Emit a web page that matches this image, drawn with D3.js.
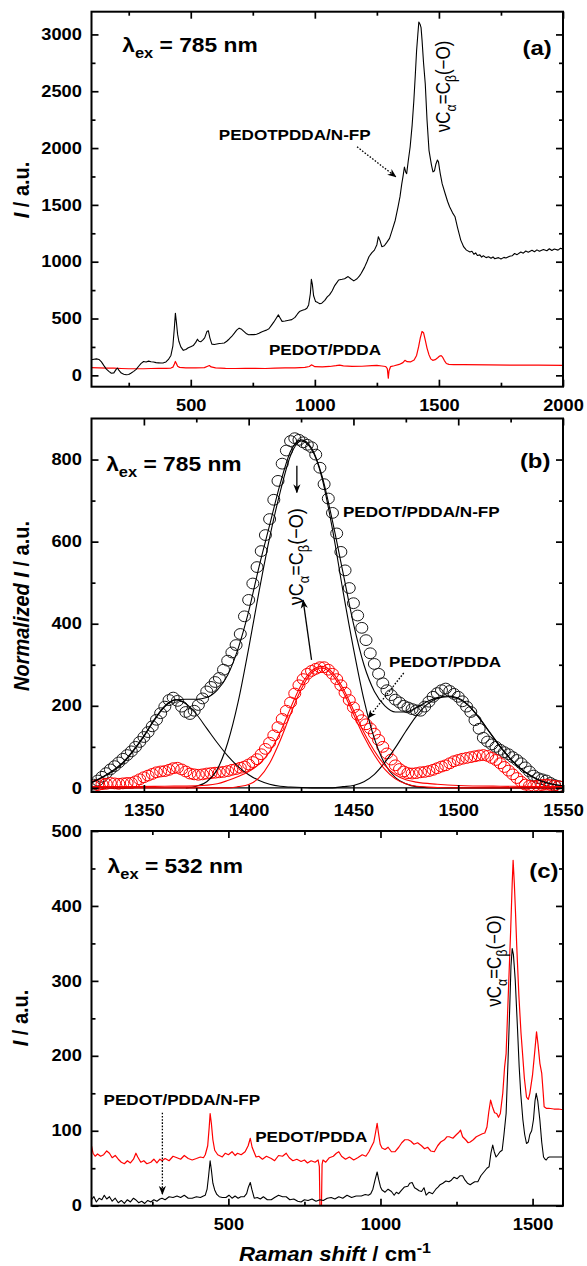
<!DOCTYPE html>
<html>
<head>
<meta charset="utf-8">
<script src="https://cdn.jsdelivr.net/npm/d3@7"></script>
<style>
  body { margin: 0; background: #fff; }
  text { font-family: "Liberation Sans", Arial, sans-serif; }
</style>
</head>
<body>
<div id="chart"></div>
<script>
// ---- (a) 785 nm, full range: [Raman shift, I] ----
const a785Nfp = [[100,137],[110,142],[120,145],[130,140],[140,118],[150,85],[160,55],[170,35],[180,18],[190,22],[200,55],[205,64],[210,45],[220,20],[230,10],[240,5],[250,8],[260,20],[270,35],[280,52],[290,80],[300,105],[310,122],[320,118],[330,125],[340,120],[350,118],[360,112],[370,110],[380,108],[390,110],[400,118],[410,140],[420,175],[428,260],[434,420],[438,547],[442,470],[447,360],[452,300],[460,250],[470,220],[480,228],[490,242],[500,252],[510,262],[520,290],[527,318],[533,300],[540,295],[548,310],[556,330],[565,385],[571,392],[577,330],[585,275],[595,272],[605,276],[615,280],[625,282],[635,285],[645,300],[655,320],[665,342],[675,370],[685,398],[695,415],[705,405],[715,385],[725,365],[733,357],[745,360],[755,358],[765,362],[775,370],[785,382],[795,390],[805,398],[815,410],[825,440],[835,470],[845,505],[853,532],[860,505],[868,475],[880,478],[895,485],[907,490],[920,510],[930,540],[938,561],[950,572],[960,580],[968,591],[975,620],[982,720],[986,845],[990,800],[995,700],[1003,649],[1012,640],[1020,630],[1028,635],[1040,660],[1050,690],[1059,708],[1070,745],[1080,790],[1090,820],[1096,839],[1110,845],[1120,850],[1134,869],[1145,850],[1157,831],[1170,850],[1180,875],[1187,898],[1200,950],[1210,1000],[1218,1044],[1230,1080],[1240,1102],[1250,1150],[1256,1220],[1262,1190],[1270,1132],[1280,1140],[1290,1170],[1301,1205],[1312,1280],[1324,1365],[1335,1480],[1343,1570],[1350,1680],[1356,1760],[1361,1833],[1366,1790],[1370,1775],[1376,1880],[1384,2009],[1392,2200],[1399,2418],[1405,2650],[1410,2857],[1415,3000],[1419,3108],[1424,3090],[1428,3060],[1432,2950],[1438,2750],[1445,2564],[1452,2250],[1460,1980],[1470,1850],[1476,1790],[1482,1800],[1488,1860],[1494,1895],[1498,1880],[1505,1780],[1513,1687],[1525,1600],[1535,1530],[1543,1483],[1555,1430],[1565,1395],[1575,1300],[1588,1190],[1600,1130],[1611,1102],[1625,1085],[1633,1092],[1641,1065],[1648,1078],[1655,1055],[1665,1060],[1672,1040],[1679,1052],[1690,1036],[1700,1044],[1710,1030],[1718,1042],[1725,1026],[1740,1036],[1750,1024],[1762,1038],[1770,1032],[1785,1048],[1795,1052],[1805,1072],[1815,1062],[1830,1085],[1840,1075],[1850,1094],[1860,1084],[1875,1100],[1885,1088],[1895,1104],[1905,1092],[1921,1108],[1935,1096],[1945,1114],[1955,1098],[1965,1112],[1980,1102],[1990,1118],[2000,1110]];
const a785Ref = [[100,67],[130,66],[160,64],[190,63],[220,60],[250,58],[280,58],[310,58],[340,60],[370,61],[400,62],[420,64],[428,72],[434,100],[438,122],[442,105],[447,80],[455,70],[480,65],[520,66],[555,68],[568,80],[575,86],[582,74],[600,66],[640,62],[680,60],[720,61],[760,62],[800,60],[840,63],[880,65],[920,66],[960,70],[978,78],[986,92],[992,86],[1000,76],[1030,74],[1060,78],[1085,85],[1100,90],[1115,84],[1150,78],[1190,80],[1230,86],[1250,88],[1270,82],[1285,78],[1292,60],[1296,-25],[1299,40],[1305,76],[1320,84],[1340,96],[1355,112],[1363,132],[1372,120],[1385,118],[1400,135],[1410,175],[1418,250],[1425,330],[1432,386],[1438,375],[1445,310],[1452,240],[1460,180],[1467,145],[1475,132],[1485,138],[1495,155],[1503,170],[1509,173],[1515,160],[1522,130],[1530,104],[1540,96],[1560,95],[1600,94],[1700,92],[1800,90],[1900,89],[2000,88]];
const aXMajor = [500, 1000, 1500, 2000];
const aXMinor = [250, 750, 1250, 1750];
const aYMajor = [0, 500, 1000, 1500, 2000, 2500, 3000];
const aYMinor = [250, 750, 1250, 1750, 2250, 2750];

// ---- (b) 785 nm, normalized, 1325-1550 ----
const bNfpPts = [[1326,8],[1328,18],[1330,27],[1332,36],[1334,45],[1336,53],[1338,62],[1340,71],[1342,80],[1344,89],[1346,100],[1348,112],[1350,124],[1352,136],[1354,150],[1356,166],[1358,182],[1360,198],[1362,214],[1364,220],[1366,212],[1368,198],[1370,185],[1372,180],[1374,188],[1376,202],[1378,218],[1380,235],[1382,246],[1384,258],[1386,268],[1388,288],[1390,310],[1392,330],[1394,348],[1396,375],[1398,418],[1400,458],[1402,498],[1404,538],[1406,577],[1408,616],[1410,655],[1412,702],[1414,748],[1416,790],[1418,822],[1420,845],[1422,852],[1424,848],[1426,842],[1428,836],[1430,830],[1432,812],[1434,780],[1436,740],[1438,705],[1440,670],[1442,620],[1444,575],[1446,530],[1448,487],[1450,450],[1452,420],[1454,390],[1456,360],[1458,328],[1460,302],[1462,278],[1464,255],[1466,238],[1468,226],[1470,215],[1472,208],[1474,200],[1476,196],[1478,192],[1480,189],[1482,188],[1484,198],[1486,210],[1488,222],[1490,231],[1492,238],[1494,242],[1496,236],[1498,229],[1500,222],[1502,211],[1504,198],[1506,185],[1508,165],[1510,144],[1512,122],[1514,113],[1516,106],[1518,100],[1520,93],[1522,87],[1524,82],[1526,75],[1528,68],[1530,60],[1532,50],[1534,40],[1536,30],[1538,24],[1540,21],[1542,18],[1544,12],[1546,7],[1548,4]];
const bRefPts = [[1326,4],[1328,7],[1330,9],[1332,10],[1334,12],[1336,11],[1338,10],[1340,11],[1342,12],[1344,12],[1346,16],[1348,21],[1350,26],[1352,30],[1354,34],[1356,38],[1358,40],[1360,41],[1362,44],[1364,48],[1366,49],[1368,45],[1370,40],[1372,35],[1374,33],[1376,32],[1378,33],[1380,35],[1382,36],[1384,37],[1386,38],[1388,39],[1390,41],[1392,44],[1394,46],[1396,49],[1398,52],[1400,57],[1402,63],[1404,70],[1406,82],[1408,95],[1410,110],[1412,128],[1414,148],[1416,168],[1418,188],[1420,208],[1422,230],[1424,250],[1426,265],[1428,278],[1430,285],[1432,290],[1434,294],[1436,294],[1438,288],[1440,278],[1442,265],[1444,250],[1446,232],[1448,214],[1450,196],[1452,178],[1454,165],[1456,155],[1458,145],[1460,132],[1462,117],[1464,100],[1466,84],[1468,69],[1470,55],[1472,46],[1474,40],[1476,36],[1478,35],[1480,36],[1482,38],[1484,39],[1486,41],[1488,44],[1490,48],[1492,52],[1494,55],[1496,60],[1498,65],[1500,68],[1502,71],[1504,73],[1506,75],[1508,77],[1510,79],[1512,80],[1514,78],[1516,73],[1518,68],[1520,60],[1522,51],[1524,42],[1526,33],[1528,24],[1530,15],[1532,8],[1534,5],[1536,4],[1538,5],[1540,7],[1542,8],[1544,7],[1546,5],[1548,4]];
const bNfpFit1 = [[1325,12],[1330,25],[1335,40],[1340,60],[1345,90],[1350,125],[1355,165],[1360,198],[1365,215],[1370,205],[1375,180],[1380,145],[1385,110],[1390,78],[1395,52],[1400,32],[1405,18],[1410,9],[1415,4],[1420,2],[1430,0],[1550,0]];
const bNfpFit2 = [[1370,0],[1375,4],[1380,15],[1385,45],[1390,110],[1395,210],[1400,340],[1405,480],[1410,610],[1415,720],[1420,810],[1425,845],[1430,825],[1435,755],[1440,630],[1445,480],[1450,340],[1455,215],[1460,120],[1465,58],[1470,25],[1475,10],[1480,3],[1490,0],[1550,0]];
const bNfpFit3 = [[1325,0],[1440,0],[1445,3],[1450,6],[1455,15],[1460,33],[1465,62],[1470,98],[1475,138],[1480,175],[1485,203],[1490,218],[1495,222],[1500,217],[1505,200],[1510,170],[1515,135],[1520,100],[1525,70],[1530,46],[1535,28],[1540,16],[1545,9],[1550,5]];
const bNfpSum = [[1325,14],[1330,26],[1335,42],[1340,62],[1345,92],[1350,127],[1355,167],[1360,200],[1365,214],[1370,216],[1375,216],[1380,220],[1385,238],[1390,275],[1395,340],[1400,430],[1405,540],[1410,640],[1415,740],[1420,820],[1425,848],[1430,828],[1435,760],[1440,650],[1445,525],[1450,400],[1455,300],[1460,235],[1465,200],[1470,185],[1475,185],[1480,195],[1485,210],[1490,220],[1495,224],[1500,219],[1505,201],[1510,171],[1515,136],[1520,101],[1525,71],[1530,46],[1535,29],[1540,16],[1545,9],[1550,5]];
const bRefFit = [[1325,0],[1390,0],[1395,3],[1400,8],[1405,25],[1410,60],[1415,115],[1420,180],[1425,240],[1430,280],[1435,292],[1440,275],[1445,235],[1450,180],[1455,125],[1460,80],[1465,45],[1470,22],[1475,10],[1480,4],[1490,1],[1500,0],[1550,0]];
const bRefSum = [[1325,3],[1340,3],[1360,4],[1375,5],[1385,10],[1390,18],[1395,28],[1400,40],[1405,58],[1410,88],[1415,135],[1420,195],[1425,250],[1430,285],[1435,296],[1440,281],[1445,243],[1450,190],[1455,135],[1460,90],[1465,55],[1470,32],[1475,20],[1480,14],[1490,9],[1500,6],[1520,4],[1550,3]];
const bXMajor = [1350, 1400, 1450, 1500, 1550];
const bXMinor = [1375, 1425, 1475, 1525];
const bYMajor = [0, 200, 400, 600, 800];
const bYMinor = [100, 300, 500, 700];

// ---- (c) 532 nm ----
const c532Ref = [[50,80],[55,70],[62,66],[70,69],[80,66],[90,68],[100,73],[109,70],[118,64],[128,67],[138,62],[148,58],[158,56],[168,60],[178,57],[188,62],[196,70],[202,65],[212,58],[222,60],[232,56],[245,58],[255,62],[265,57],[275,62],[282,60],[292,63],[305,60],[318,66],[331,64],[343,62],[355,67],[368,63],[381,61],[395,63],[408,65],[418,64],[424,68],[432,80],[437,105],[440,123],[444,110],[449,88],[455,74],[465,68],[480,65],[490,70],[500,68],[512,72],[522,67],[530,70],[542,68],[555,72],[565,80],[572,90],[578,78],[591,65],[600,66],[612,62],[625,66],[641,63],[652,60],[665,67],[678,66],[690,70],[700,64],[712,60],[725,62],[739,59],[750,61],[760,57],[772,60],[785,58],[795,61],[799,52],[801,0],[806,0],[808,55],[811,61],[820,58],[832,64],[845,66],[855,70],[863,72],[872,66],[885,62],[898,65],[912,61],[925,64],[940,68],[952,66],[962,72],[968,77],[978,85],[984,98],[989,110],[993,98],[999,82],[1005,77],[1015,75],[1025,78],[1036,72],[1048,72],[1060,78],[1070,84],[1080,88],[1091,88],[1100,86],[1110,82],[1122,84],[1135,80],[1145,76],[1155,78],[1165,73],[1177,72],[1188,80],[1198,85],[1210,88],[1218,92],[1226,92],[1238,90],[1250,95],[1258,98],[1263,101],[1270,92],[1280,88],[1288,84],[1295,85],[1305,88],[1315,92],[1325,94],[1335,96],[1343,97],[1350,105],[1356,125],[1362,141],[1368,132],[1375,124],[1382,123],[1388,118],[1394,123],[1402,150],[1408,185],[1413,203],[1420,280],[1428,368],[1433,430],[1436,461],[1440,430],[1444,390],[1448,346],[1455,280],[1462,230],[1467,203],[1473,170],[1480,145],[1486,142],[1491,150],[1500,175],[1507,205],[1513,232],[1518,215],[1524,190],[1530,177],[1535,150],[1538,132],[1545,130],[1553,130],[1570,129],[1585,129],[1600,128]];
const c532Nfp = [[50,8],[58,12],[66,5],[75,10],[84,8],[92,14],[100,9],[109,12],[118,6],[128,10],[138,4],[148,7],[158,3],[168,8],[178,5],[188,10],[195,8],[205,4],[215,6],[225,3],[235,7],[245,5],[255,8],[265,6],[275,9],[282,10],[292,8],[305,12],[318,11],[331,13],[343,11],[355,14],[368,10],[381,10],[395,12],[408,11],[418,13],[424,14],[430,22],[435,40],[440,60],[444,48],[449,30],[455,21],[462,15],[470,12],[480,11],[492,11],[502,14],[512,10],[522,13],[532,10],[541,12],[552,12],[560,16],[566,25],[572,31],[577,22],[585,10],[595,11],[605,9],[615,12],[628,8],[641,8],[652,11],[665,14],[678,12],[690,12],[702,8],[715,9],[728,6],[739,5],[750,8],[762,7],[775,9],[788,6],[801,8],[812,7],[825,10],[838,11],[850,9],[863,12],[876,10],[890,14],[905,11],[920,13],[937,13],[950,15],[960,14],[968,16],[975,22],[982,34],[989,45],[994,35],[1000,25],[1005,21],[1015,18],[1025,22],[1036,19],[1045,14],[1052,18],[1060,16],[1068,20],[1079,25],[1090,26],[1096,30],[1104,31],[1112,24],[1120,22],[1127,20],[1135,19],[1143,24],[1150,14],[1160,18],[1171,16],[1182,22],[1190,25],[1196,28],[1205,30],[1215,33],[1225,32],[1233,34],[1242,38],[1252,36],[1262,40],[1270,40],[1278,34],[1286,30],[1295,28],[1302,30],[1310,32],[1320,32],[1330,40],[1340,45],[1350,50],[1357,52],[1363,70],[1369,81],[1374,72],[1380,65],[1386,68],[1393,72],[1400,74],[1406,95],[1413,123],[1419,190],[1425,266],[1429,320],[1433,343],[1437,335],[1443,301],[1450,240],[1456,185],[1461,150],[1468,115],[1474,95],[1480,83],[1486,85],[1491,95],[1497,100],[1503,115],[1508,140],[1512,150],[1517,140],[1524,114],[1530,85],[1536,65],[1541,62],[1545,61],[1550,64],[1555,65],[1570,65],[1585,65],[1600,65]];
const cXMajor = [500, 1000, 1500];
const cXMinor = [250, 750, 1250];
const cYMajor = [0, 100, 200, 300, 400, 500];
const cYMinor = [50, 150, 250, 350, 450];

const W = 587, H = 1266;
const L = 91.5, R = 563;
const SX = 1.14;   // text in the figure is drawn a bit wide
const FONT = '"Liberation Sans", Arial, sans-serif';
const RED = "#ff0000";

const svg = d3.select("#chart").append("svg")
  .attr("width", W).attr("height", H)
  .style("background", "#fff");
const defs = svg.append("defs");

defs.append("marker").attr("id", "head")
  .attr("viewBox", "0 0 10 10").attr("refX", 9).attr("refY", 5)
  .attr("markerWidth", 9).attr("markerHeight", 9)
  .attr("markerUnits", "userSpaceOnUse").attr("orient", "auto")
  .append("path").attr("d", "M0,1 L10,5 L0,9 L3,5 Z").attr("fill", "#000");

// text with sub/sup/italic pieces
function rich(g, x, y, parts, o) {
  const size = o.size;
  let tr = `translate(${x},${y}) scale(${SX},1)`;
  if (o.rotate) tr += ` rotate(${o.rotate})`;
  const t = g.append("text").attr("transform", tr)
    .attr("font-size", size)
    .attr("font-weight", o.weight || "bold")
    .attr("text-anchor", o.anchor || "start")
    .attr("fill", "#000");
  let shift = 0;
  parts.forEach(([s, k]) => {
    const target = k === "sub" ? size * 0.3 : k === "sup" ? -size * 0.4 : 0;
    const sp = t.append("tspan").attr("dy", target - shift).text(s);
    shift = target;
    if (k === "sub" || k === "sup") sp.attr("font-size", size * 0.72);
    if (k === "i") sp.attr("font-style", "italic");
  });
  return t;
}

function panel(cfg) {
  const x = d3.scaleLinear().domain(cfg.xDom).range([L, R]);
  const y = d3.scaleLinear().domain(cfg.yDom).range([cfg.bottom, cfg.top]);
  const g = svg.append("g");
  const id = "clip" + cfg.name;
  defs.append("clipPath").attr("id", id).append("rect")
    .attr("x", L).attr("y", cfg.top)
    .attr("width", R - L).attr("height", cfg.bottom - cfg.top);
  const plot = g.append("g").attr("clip-path", `url(#${id})`);
  const axes = g.append("g");
  const fmt = d3.format("d");

  function put(axis, tx, ty) {
    const a = axes.append("g").attr("transform", `translate(${tx},${ty})`).call(axis);
    a.select(".domain").remove();
    a.selectAll("line").attr("stroke", "#000").attr("stroke-width", 1.7);
    a.selectAll("text")
      .attr("font-size", 16).attr("font-weight", "bold")
      .attr("font-family", FONT).attr("fill", "#000")
      .attr("transform", `scale(${SX},1)`);
  }
  put(d3.axisBottom(x).tickValues(cfg.xMaj).tickFormat(fmt).tickSize(-7).tickPadding(13), 0, cfg.bottom);
  put(d3.axisBottom(x).tickValues(cfg.xMin).tickSize(-4).tickFormat(""), 0, cfg.bottom);
  put(d3.axisTop(x).tickValues(cfg.xMaj).tickSize(-7).tickFormat(""), 0, cfg.top);
  put(d3.axisTop(x).tickValues(cfg.xMin).tickSize(-4).tickFormat(""), 0, cfg.top);
  put(d3.axisLeft(y).tickValues(cfg.yMaj).tickFormat(fmt).tickSize(-7).tickPadding(8.5), L, 0);
  put(d3.axisLeft(y).tickValues(cfg.yMin).tickSize(-4).tickFormat(""), L, 0);
  put(d3.axisRight(y).tickValues(cfg.yMaj).tickSize(-7).tickFormat(""), R, 0);
  put(d3.axisRight(y).tickValues(cfg.yMin).tickSize(-4).tickFormat(""), R, 0);

  axes.append("rect")
    .attr("x", L).attr("y", cfg.top)
    .attr("width", R - L).attr("height", cfg.bottom - cfg.top)
    .attr("fill", "none").attr("stroke", "#000").attr("stroke-width", 2);

  return { x, y, plot, g };
}

function drawLine(p, data, color, w) {
  p.plot.append("path").datum(data)
    .attr("d", d3.line().x(d => p.x(d[0])).y(d => p.y(d[1])))
    .attr("fill", "none").attr("stroke", color)
    .attr("stroke-width", w).attr("stroke-linejoin", "round");
}
function drawFit(p, data, color) {
  p.plot.append("path").datum(data)
    .attr("d", d3.line().curve(d3.curveMonotoneX).x(d => p.x(d[0])).y(d => p.y(d[1])))
    .attr("fill", "none").attr("stroke", color).attr("stroke-width", 1.1);
}
function drawRings(p, data, color) {
  p.plot.append("g").selectAll("ellipse").data(data).join("ellipse")
    .attr("cx", d => p.x(d[0])).attr("cy", d => p.y(d[1]))
    .attr("rx", 6).attr("ry", 5.4)
    .attr("fill", "none").attr("stroke", color).attr("stroke-width", 1);
}
function arrow(g, x1, y1, x2, y2, dotted) {
  g.append("line")
    .attr("x1", x1).attr("y1", y1).attr("x2", x2).attr("y2", y2)
    .attr("stroke", "#000").attr("stroke-width", 1.3)
    .attr("stroke-dasharray", dotted ? "1.6,1.6" : null)
    .attr("marker-end", "url(#head)");
}
const lambda = (nm) => [["λ", ""], ["ex", "sub"], [" = " + nm + " nm", ""]];
const vibr = [["νC", ""], ["α", "sub"], ["=C", ""], ["β", "sub"], ["(−O)", ""]];

// ================= panel (a) =================
const pa = panel({ name: "a", top: 11.7, bottom: 386.7, xDom: [100, 2000], yDom: [-100, 3200],
  xMaj: aXMajor, xMin: aXMinor, yMaj: aYMajor, yMin: aYMinor });
drawLine(pa, a785Ref, RED, 1.2);
drawLine(pa, a785Nfp, "#000", 1.1);
rich(pa.g, pa.x(224), pa.y(2842), lambda(785), { size: 20 });
rich(pa.g, pa.x(1955), pa.y(2815), [["(a)", ""]], { size: 21, anchor: "end" });
rich(pa.g, pa.x(1225), pa.y(2069), [["PEDOTPDDA/N-FP", ""]], { size: 15, anchor: "end" });
arrow(pa.g, pa.x(1170), pa.y(2011), pa.x(1326), pa.y(1747), true);
rich(pa.g, pa.x(1544), pa.y(2140), vibr, { size: 17, weight: "normal", rotate: -90 });
rich(pa.g, pa.x(815), pa.y(182), [["PEDOT/PDDA", ""]], { size: 15 });
rich(svg, 29, 190, [["I", "i"], [" / a.u.", ""]], { size: 20, rotate: -90, anchor: "middle" });

// ================= panel (b) =================
const pb = panel({ name: "b", top: 418.5, bottom: 792, xDom: [1325, 1550], yDom: [-10, 900],
  xMaj: bXMajor, xMin: bXMinor, yMaj: bYMajor, yMin: bYMinor });
drawRings(pb, bNfpPts, "#1a1a1a");
drawRings(pb, bRefPts, RED);
drawFit(pb, bNfpFit1, "#000");
drawFit(pb, bNfpFit2, "#000");
drawFit(pb, bNfpFit3, "#000");
drawFit(pb, bNfpSum, "#000");
drawFit(pb, bRefFit, RED);
drawFit(pb, bRefSum, RED);
rich(pb.g, pb.x(1332), pb.y(773), lambda(785), { size: 20 });
rich(pb.g, pb.x(1544), pb.y(780), [["(b)", ""]], { size: 21, anchor: "end" });
rich(pb.g, pb.x(1445), pb.y(660), [["PEDOT/PDDA/N-FP", ""]], { size: 15 });
rich(pb.g, pb.x(1467), pb.y(295), [["PEDOT/PDDA", ""]], { size: 15 });
arrow(pb.g, pb.x(1474), pb.y(280), pb.x(1457), pb.y(170), true);
rich(pb.g, pb.x(1426), pb.y(445), vibr, { size: 18, weight: "normal", rotate: -90 });
arrow(pb.g, pb.x(1423), pb.y(785), pb.x(1423), pb.y(720), false);
arrow(pb.g, pb.x(1430), pb.y(312), pb.x(1426), pb.y(457), false);
rich(svg, 29, 606, [["Normalized I", "i"], [" / a.u.", ""]], { size: 20, rotate: -90, anchor: "middle" });

// ================= panel (c) =================
const pc = panel({ name: "c", top: 831, bottom: 1205.7, xDom: [50, 1600], yDom: [0, 500],
  xMaj: cXMajor, xMin: cXMinor, yMaj: cYMajor, yMin: cYMinor });
drawLine(pc, c532Ref, RED, 1.2);
drawLine(pc, c532Nfp, "#000", 1.1);
rich(pc.g, pc.x(103), pc.y(444), lambda(532), { size: 20 });
rich(pc.g, pc.x(1585), pc.y(437), [["(c)", ""]], { size: 21, anchor: "end" });
rich(pc.g, pc.x(89.5), pc.y(134), [["PEDOT/PDDA/N-FP", ""]], { size: 15 });
arrow(pc.g, pc.x(283), pc.y(124), pc.x(283), pc.y(15.6), true);
rich(pc.g, pc.x(588), pc.y(85), [["PEDOT/PDDA", ""]], { size: 15 });
rich(pc.g, pc.x(1396), pc.y(265.6), vibr, { size: 17, weight: "normal", rotate: -90 });
rich(svg, 28, 1018, [["I", "i"], [" / a.u.", ""]], { size: 20, rotate: -90, anchor: "middle" });
rich(svg, 335, 1261, [["Raman shift", "i"], [" / cm", ""], ["-1", "sup"]], { size: 19.5, anchor: "middle" });
</script>
</body>
</html>
